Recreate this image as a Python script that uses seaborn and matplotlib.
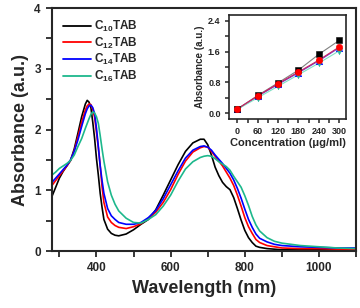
import numpy as np
import pandas as pd
import matplotlib
matplotlib.use("Agg")
import matplotlib.pyplot as plt
from matplotlib.ticker import MultipleLocator
import seaborn as sns

# UV-vis spectra
wavelength = [280, 290, 300, 310, 320, 330, 340, 350, 360, 370, 375, 380, 385, 390, 395,
              400, 405, 410, 415, 420, 430, 440, 450, 460, 480, 500, 520, 540, 560, 580,
              600, 620, 640, 660, 680, 690, 700, 710, 720, 730, 740, 750, 760, 770, 780,
              790, 800, 810, 820, 830, 840, 860, 880, 900, 950, 1000, 1050, 1100]

c10 = [0.90, 1.05, 1.20, 1.31, 1.40, 1.49, 1.68, 1.94, 2.21, 2.42, 2.48, 2.45, 2.36, 2.12, 1.85,
       1.52, 1.25, 0.95, 0.72, 0.52, 0.36, 0.29, 0.26, 0.25, 0.28, 0.35, 0.44, 0.52, 0.68, 0.92,
       1.17, 1.42, 1.64, 1.78, 1.84, 1.84, 1.75, 1.58, 1.38, 1.24, 1.13, 1.06, 1.01, 0.88, 0.70,
       0.51, 0.34, 0.22, 0.14, 0.08, 0.06, 0.04, 0.03, 0.02, 0.02, 0.02, 0.02, 0.02]

c12 = [1.08, 1.16, 1.24, 1.32, 1.40, 1.49, 1.65, 1.88, 2.12, 2.32, 2.39, 2.42, 2.41, 2.33, 2.20,
       1.95, 1.70, 1.41, 1.06, 0.80, 0.56, 0.47, 0.42, 0.39, 0.37, 0.40, 0.45, 0.54, 0.64, 0.80,
       1.01, 1.26, 1.48, 1.63, 1.70, 1.72, 1.71, 1.64, 1.56, 1.48, 1.40, 1.30, 1.20, 1.08, 0.92,
       0.74, 0.55, 0.40, 0.29, 0.19, 0.14, 0.09, 0.07, 0.05, 0.04, 0.04, 0.03, 0.03]

c14 = [1.13, 1.20, 1.27, 1.34, 1.41, 1.50, 1.64, 1.83, 2.05, 2.26, 2.34, 2.39, 2.40, 2.36, 2.26,
       2.02, 1.72, 1.40, 1.16, 0.95, 0.70, 0.58, 0.52, 0.47, 0.44, 0.44, 0.47, 0.55, 0.67, 0.86,
       1.09, 1.32, 1.53, 1.66, 1.72, 1.73, 1.71, 1.66, 1.58, 1.51, 1.44, 1.36, 1.28, 1.17, 1.03,
       0.87, 0.69, 0.52, 0.39, 0.28, 0.21, 0.15, 0.11, 0.09, 0.07, 0.06, 0.05, 0.05]

c16 = [1.25, 1.30, 1.36, 1.40, 1.44, 1.49, 1.58, 1.72, 1.85, 2.02, 2.10, 2.18, 2.25, 2.29, 2.27,
       2.21, 2.10, 1.90, 1.68, 1.48, 1.14, 0.92, 0.77, 0.66, 0.54, 0.47, 0.46, 0.52, 0.60, 0.74,
       0.92, 1.15, 1.35, 1.47, 1.54, 1.56, 1.57, 1.56, 1.52, 1.47, 1.43, 1.39, 1.33, 1.23, 1.14,
       1.05, 0.91, 0.75, 0.57, 0.43, 0.33, 0.22, 0.16, 0.13, 0.09, 0.07, 0.05, 0.04]

# inset: absorbance vs concentration
conc = [0, 60, 120, 180, 240, 300]
abs_c10 = [0.11, 0.46, 0.79, 1.12, 1.53, 1.89]
abs_c12 = [0.11, 0.45, 0.77, 1.07, 1.38, 1.72]
abs_c14 = [0.10, 0.44, 0.75, 1.05, 1.36, 1.70]
abs_c16 = [0.10, 0.40, 0.70, 1.00, 1.30, 1.62]

labels = [r'C$_{10}$TAB', r'C$_{12}$TAB', r'C$_{14}$TAB', r'C$_{16}$TAB']
colors = ['#000000', '#ff0000', '#0000ff', '#1db88c']

sns.set_theme(style='ticks')
plt.rcParams['font.family'] = ['Liberation Sans', 'DejaVu Sans']
plt.rcParams['font.weight'] = 'bold'
plt.rcParams['mathtext.fontset'] = 'custom'
plt.rcParams['mathtext.rm'] = 'Liberation Sans:bold'
plt.rcParams['mathtext.bf'] = 'Liberation Sans:bold'
plt.rcParams['mathtext.default'] = 'bf'

df = pd.DataFrame({'Wavelength': wavelength * 4,
                   'Absorbance': c10 + c12 + c14 + c16,
                   'Sample': sum([[lab] * len(wavelength) for lab in labels], [])})

fig = plt.figure(figsize=(3.6, 3.08), dpi=100)
ax = fig.add_axes([0.1444, 0.185, 0.8446, 0.789])

sns.lineplot(data=df, x='Wavelength', y='Absorbance', hue='Sample', palette=colors,
             linewidth=1.2, ax=ax, legend=False, sort=False)

ax.set_xlim(280, 1100)
ax.set_ylim(0, 4)
ax.xaxis.set_major_locator(MultipleLocator(200))
ax.xaxis.set_minor_locator(MultipleLocator(100))
ax.yaxis.set_major_locator(MultipleLocator(1))
ax.yaxis.set_minor_locator(MultipleLocator(0.5))
ax.tick_params(which='both', direction='out', length=4.5, width=1.3, labelsize=8.5,
               top=False, right=False)
for lbl in ax.get_xticklabels() + ax.get_yticklabels():
    lbl.set_fontweight('bold')
for s in ax.spines.values():
    s.set_linewidth(1.5)
ax.set_xlabel('Wavelength (nm)', fontsize=13, fontweight='bold', labelpad=4)
ax.set_ylabel('Absorbance (a.u.)', fontsize=13, fontweight='bold', labelpad=4)

handles = [plt.Line2D([], [], color=c, lw=1.3) for c in colors]
ax.legend(handles, labels, loc='upper left', bbox_to_anchor=(0.0, 1.0), frameon=False,
          handlelength=2.4, handletextpad=0.3, labelspacing=0.15,
          borderaxespad=0.5, prop={'weight': 'bold', 'size': 8.5})

# inset
ins = fig.add_axes([0.636, 0.614, 0.325, 0.337])
inset_series = [(abs_c14, colors[2], '^', '#6a3fd0'),
                (abs_c16, '#2ab59a', 'v', '#7fe0c4'),
                (abs_c10, '#000000', 's', '#808080'),
                (abs_c12, '#ff0000', 'o', '#cc2060')]
for vals, mc, mk, lc in inset_series:
    sns.lineplot(x=conc, y=vals, color=lc, linewidth=0.8, ax=ins)
    sns.scatterplot(x=conc, y=vals, color=mc, marker=mk, s=22, edgecolor=mc, ax=ins, zorder=3)

ins.set_xlim(-25, 320)
ins.set_ylim(-0.15, 2.55)
ins.xaxis.set_major_locator(MultipleLocator(60))
ins.xaxis.set_minor_locator(MultipleLocator(30))
ins.yaxis.set_major_locator(MultipleLocator(0.8))
ins.yaxis.set_minor_locator(MultipleLocator(0.4))
ins.tick_params(which='both', direction='out', length=3, width=1.1, labelsize=6.5, pad=3)
for lbl in ins.get_xticklabels() + ins.get_yticklabels():
    lbl.set_fontweight('bold')
for s in ins.spines.values():
    s.set_linewidth(1.2)
ins.set_xlabel('Concentration (\u03bcg/ml)', fontsize=8, fontweight='bold', labelpad=1)
ins.set_ylabel('Absorbance (a.u.)', fontsize=7, fontweight='bold', labelpad=2)

fig.savefig('out.png', dpi=100)
